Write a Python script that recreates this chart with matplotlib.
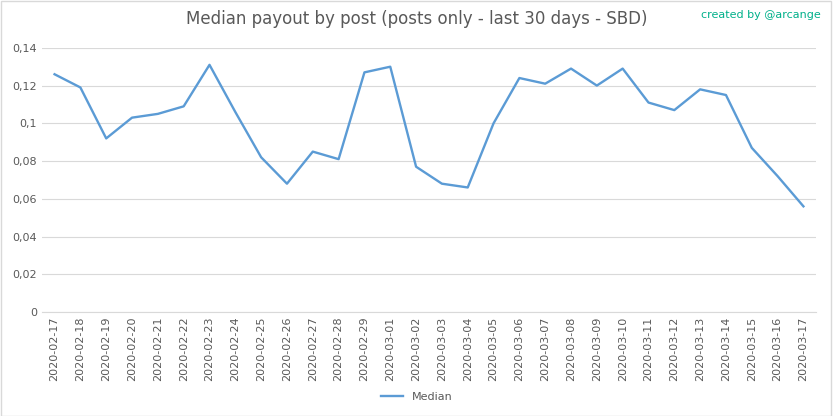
import matplotlib.pyplot as plt
import numpy as np

dates = ['2020-02-17', '2020-02-18', '2020-02-19', '2020-02-20', '2020-02-21', '2020-02-22',
         '2020-02-23', '2020-02-24', '2020-02-25', '2020-02-26', '2020-02-27', '2020-02-28',
         '2020-02-29', '2020-03-01', '2020-03-02', '2020-03-03', '2020-03-04', '2020-03-05',
         '2020-03-06', '2020-03-07', '2020-03-08', '2020-03-09', '2020-03-10', '2020-03-11',
         '2020-03-12', '2020-03-13', '2020-03-14', '2020-03-15', '2020-03-16', '2020-03-17']
median = [0.126, 0.119, 0.092, 0.103, 0.105, 0.109, 0.131, 0.106, 0.082, 0.068,
          0.085, 0.081, 0.127, 0.130, 0.077, 0.068, 0.066, 0.100, 0.124, 0.121,
          0.129, 0.120, 0.129, 0.111, 0.107, 0.118, 0.115, 0.087, 0.072, 0.056]
yticks = [0, 0.02, 0.04, 0.06, 0.08, 0.1, 0.12, 0.14]
ytick_labels = ['0', '0,02', '0,04', '0,06', '0,08', '0,1', '0,12', '0,14']

fig = plt.figure(figsize=(8.33, 4.16), dpi=100)
ax = fig.add_axes([0.05, 0.25, 0.93, 0.635])
x = np.arange(len(dates))
ax.plot(x, median, color='#5b9bd5', linewidth=1.7, label='Median')
ax.set_xlim(-0.5, len(dates) - 0.5)
ax.set_ylim(0, 0.14)
ax.set_yticks(yticks)
ax.set_yticklabels(ytick_labels)
ax.set_xticks(x)
ax.set_xticklabels(dates, rotation=90)
ax.tick_params(axis='both', labelsize=8, colors='#595959', length=0)
ax.grid(axis='y', color='#d9d9d9', linewidth=0.8)
for s in ['top', 'right', 'left']:
    ax.spines[s].set_visible(False)
ax.spines['bottom'].set_color('#d9d9d9')
ax.set_axisbelow(True)

fig.suptitle('Median payout by post (posts only - last 30 days - SBD)',
             y=0.975, fontsize=12, color='#595959')
fig.text(0.985, 0.965, 'created by @arcange', ha='right', va='center',
         fontsize=8, color='#00b08a')
fig.legend(loc='lower center', bbox_to_anchor=(0.5, 0.01), frameon=False,
           fontsize=8, labelcolor='#595959')
fig.patches.append(plt.Rectangle((0.001, 0.001), 0.997, 0.997, transform=fig.transFigure,
                                 fill=False, edgecolor='#d9d9d9', linewidth=1))
fig.savefig('out.png', dpi=100)
